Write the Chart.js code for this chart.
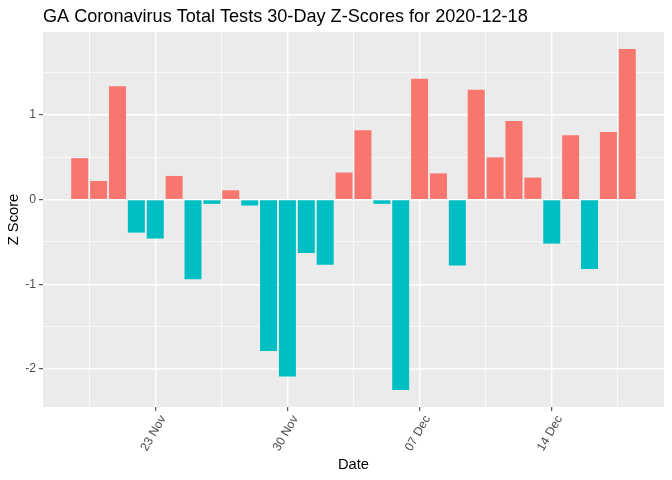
<!DOCTYPE html>
<html>
<head>
<meta charset="utf-8">
<script src="https://cdn.jsdelivr.net/npm/chart.js@4.4.1/dist/chart.umd.min.js"></script>
<style>
  html, body { margin: 0; padding: 0; background: #ffffff; }
  canvas { display: block; }
</style>
</head>
<body>
<canvas id="chart" width="672" height="480"></canvas>
<script>
// data
const dates = [
  "2020-11-19", "2020-11-20", "2020-11-21", "2020-11-22", "2020-11-23", "2020-11-24",
  "2020-11-25", "2020-11-26", "2020-11-27", "2020-11-28", "2020-11-29", "2020-11-30",
  "2020-12-01", "2020-12-02", "2020-12-03", "2020-12-04", "2020-12-05", "2020-12-06",
  "2020-12-07", "2020-12-08", "2020-12-09", "2020-12-10", "2020-12-11", "2020-12-12",
  "2020-12-13", "2020-12-14", "2020-12-15", "2020-12-16", "2020-12-17", "2020-12-18"
];
const zScores = [
  0.49, 0.22, 1.34, -0.39, -0.46, 0.28,
  -0.94, -0.05, 0.11, -0.07, -1.79, -2.09,
  -0.63, -0.77, 0.32, 0.82, -0.05, -2.25,
  1.43, 0.31, -0.78, 1.30, 0.50, 0.93,
  0.26, -0.52, 0.76, -0.82, 0.80, 1.78
];
const xTickDates = ["2020-11-23", "2020-11-30", "2020-12-07", "2020-12-14"];
const xTickLabels = ["23 Nov", "30 Nov", "07 Dec", "14 Dec"];
const yTicks = [-2, -1, 0, 1];

const FONT = "'Liberation Sans', Arial, sans-serif";
const RED = "#F8766D";
const TEAL = "#00BFC4";

// x is day index from first date
const xMajor = xTickDates.map(d => dates.indexOf(d));
const xMinor = xMajor.map(v => v - 3.5).concat([xMajor[xMajor.length - 1] + 3.5]);
const yMinor = yTicks.map(v => v + 0.5);

// ggplot style range: bar half width 0.45 + 5% expansion
const span = (dates.length - 1) + 0.9;
const xMin = -0.45 - span * 0.05;
const xMax = dates.length - 1 + 0.45 + span * 0.05;
const yLo = Math.min(...zScores), yHi = Math.max(...zScores);
const yMin = yLo - (yHi - yLo) * 0.05;
const yMax = yHi + (yHi - yLo) * 0.05;

const isMajorX = v => xMajor.includes(v);
const isMajorY = v => yTicks.includes(v);

// panel background + title
const panelBg = {
  id: "panelBg",
  beforeDraw: (chart) => {
    const { ctx, chartArea: a } = chart;
    ctx.save();
    ctx.fillStyle = "#EBEBEB";
    ctx.fillRect(a.left, a.top, a.right - a.left, a.bottom - a.top);
    ctx.restore();
  },
  afterDraw: (chart) => {
    const ctx = chart.ctx;
    ctx.save();
    ctx.fillStyle = "#000000";
    ctx.font = "18.1px " + FONT;
    ctx.textBaseline = "alphabetic";
    ctx.textAlign = "left";
    ctx.fillText("GA Coronavirus Total Tests 30-Day Z-Scores for 2020-12-18", 43, 22);
    ctx.restore();
  }
};

new Chart(document.getElementById("chart"), {
  type: "bar",
  data: {
    datasets: [{
      data: zScores.map((v, i) => ({ x: i, y: v })),
      backgroundColor: zScores.map(v => v >= 0 ? RED : TEAL),
      borderWidth: 0,
      categoryPercentage: 1,
      barPercentage: 0.9
    }]
  },
  options: {
    responsive: false,
    animation: false,
    devicePixelRatio: 1,
    layout: { padding: { top: 32, right: 8, left: 0, bottom: 0 } },
    plugins: {
      legend: { display: false },
      tooltip: { enabled: false }
    },
    scales: {
      x: {
        type: "linear",
        offset: false,
        min: xMin,
        max: xMax,
        afterBuildTicks: (scale) => {
          scale.ticks = xMinor.concat(xMajor).sort((a, b) => a - b).map(v => ({ value: v }));
        },
        afterFit: (scale) => { scale.height = 73; },
        ticks: {
          autoSkip: false,
          minRotation: 60,
          maxRotation: 60,
          padding: 2,
          labelOffset: 8,
          color: "#4D4D4D",
          font: { family: FONT, size: 12.2 },
          callback: (v) => {
            const k = xMajor.indexOf(v);
            return k >= 0 ? xTickLabels[k] : "";
          }
        },
        grid: {
          offset: false,
          color: "#FFFFFF",
          lineWidth: (c) => isMajorX(c.tick && c.tick.value) ? 1.4 : 0.7,
          tickColor: (c) => isMajorX(c.tick && c.tick.value) ? "#333333" : "rgba(0,0,0,0)",
          tickLength: 4,
          tickWidth: 1
        },
        border: { display: false },
        title: {
          display: true,
          text: "Date",
          color: "#000000",
          font: { family: FONT, size: 14.7 },
          padding: { top: 0, bottom: 6 }
        }
      },
      y: {
        min: yMin,
        max: yMax,
        afterBuildTicks: (scale) => {
          scale.ticks = yMinor.concat(yTicks).filter(v => v > yMin && v < yMax)
            .sort((a, b) => a - b).map(v => ({ value: v }));
        },
        afterFit: (scale) => { scale.width = 43; },
        ticks: {
          padding: 3,
          color: "#4D4D4D",
          font: { family: FONT, size: 12.2 },
          callback: (v) => isMajorY(v) ? String(v) : ""
        },
        grid: {
          color: "#FFFFFF",
          lineWidth: (c) => isMajorY(c.tick && c.tick.value) ? 1.4 : 0.7,
          tickColor: (c) => isMajorY(c.tick && c.tick.value) ? "#333333" : "rgba(0,0,0,0)",
          tickLength: 4,
          tickWidth: 1
        },
        border: { display: false },
        title: {
          display: true,
          text: "Z Score",
          color: "#000000",
          font: { family: FONT, size: 14.7 },
          padding: { top: 5, bottom: 0 }
        }
      }
    }
  },
  plugins: [panelBg]
});
</script>
</body>
</html>
